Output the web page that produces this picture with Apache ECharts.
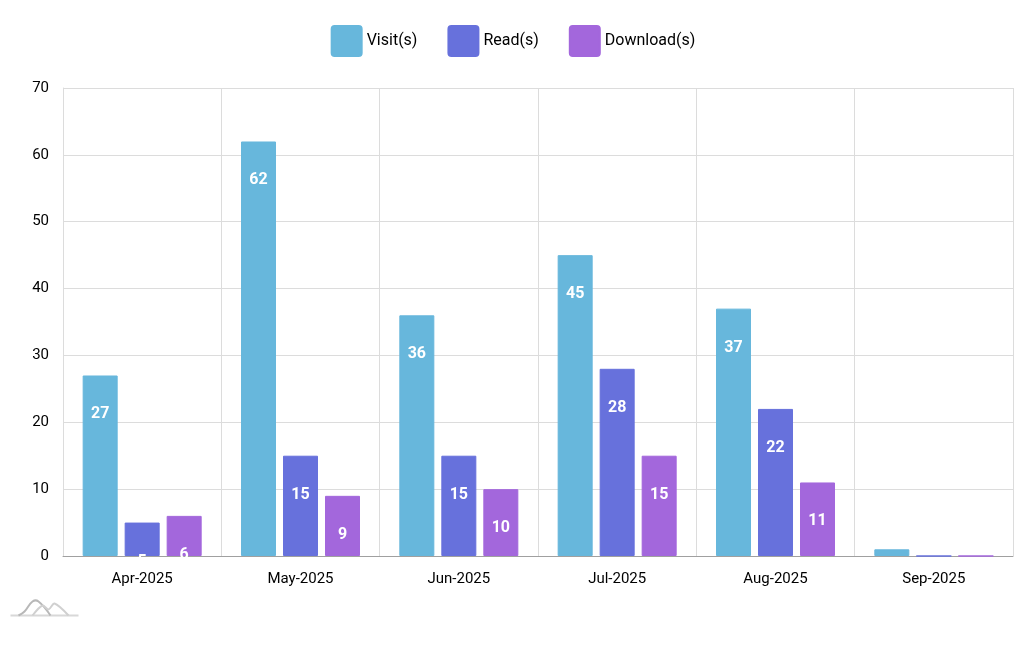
<!DOCTYPE html>
<html><head><meta charset="utf-8">
<script src="https://cdn.jsdelivr.net/npm/echarts@6/dist/echarts.min.js"></script>
<style>html,body{margin:0;padding:0;background:#fff}#c{width:1026px;height:652px}</style>
</head><body><div id="c"></div>
<script>
const categories = ['Apr-2025','May-2025','Jun-2025','Jul-2025','Aug-2025','Sep-2025'];
const visits = [27, 62, 36, 45, 37, 1];
const reads = [5, 15, 15, 28, 22, 0];
const downloads = [6, 9, 10, 15, 11, 0];
const seriesNames = ['Visit(s)', 'Read(s)', 'Download(s)'];
const colors = ['#67b7dc', '#6771dc', '#a367dc'];
const FONT = 'Roboto';

const chart = echarts.init(document.getElementById('c'));
function mk(name, data, color) {
  return {
    name, type: 'bar', data, barWidth: 35, barGap: '20%',
    itemStyle: { color, borderColor: color, borderWidth: 1, borderRadius: 0 },
    label: {
      show: true, position: 'insideTop', distance: 31,
      color: '#fff', fontFamily: FONT, fontSize: 16, fontWeight: 'bold',
      formatter: p => p.value >= 2 ? String(p.value) : ''
    }
  };
}
chart.setOption({
  animation: false,
  color: colors,
  textStyle: { fontFamily: FONT },
  legend: {
    top: 20, left: 'center', itemWidth: 30, itemHeight: 30, itemGap: 30,
    icon: 'path://M3,0 H27 Q30,0 30,3 V27 Q30,30 27,30 H3 Q0,30 0,27 V3 Q0,0 3,0 Z',
    textStyle: { fontFamily: FONT, fontSize: 16, color: '#000' },
    data: seriesNames
  },
  grid: { left: 63, right: 13, top: 88, bottom: 96 },
  xAxis: {
    type: 'category', data: categories,
    axisLine: { lineStyle: { color: '#a0a0a0', width: 1 } },
    axisTick: { show: false },
    splitLine: { show: true, lineStyle: { color: '#dcdcdc' } },
    axisLabel: { color: '#000', fontFamily: FONT, fontSize: 15, margin: 16 }
  },
  yAxis: {
    type: 'value', min: 0, max: 70, interval: 10,
    axisLine: { show: true, lineStyle: { color: '#dcdcdc' } },
    axisTick: { show: false },
    splitLine: { lineStyle: { color: '#dcdcdc' } },
    axisLabel: { color: '#000', fontFamily: FONT, fontSize: 15, margin: 14 }
  },
  graphic: [{
    type: 'group', left: 8, top: 598, silent: true,
    children: [
      { type: 'polyline', shape: { points: [[0,16],[68,16]] }, style: { stroke: '#d8d8d8', lineWidth: 2, fill: null } },
      { type: 'polyline', shape: { points: [[8,16],[14,12],[22,2],[28,2],[40,16]], smooth: 0.4 }, style: { stroke: '#b8b8b8', lineWidth: 2, fill: null } },
      { type: 'polyline', shape: { points: [[22,16],[32,6],[38,10],[44,4],[58,16]], smooth: 0.3 }, style: { stroke: '#d0d0d0', lineWidth: 2, fill: null } }
    ]
  }],
  series: [mk(seriesNames[0], visits, colors[0]), mk(seriesNames[1], reads, colors[1]), mk(seriesNames[2], downloads, colors[2])]
});
</script></body></html>
